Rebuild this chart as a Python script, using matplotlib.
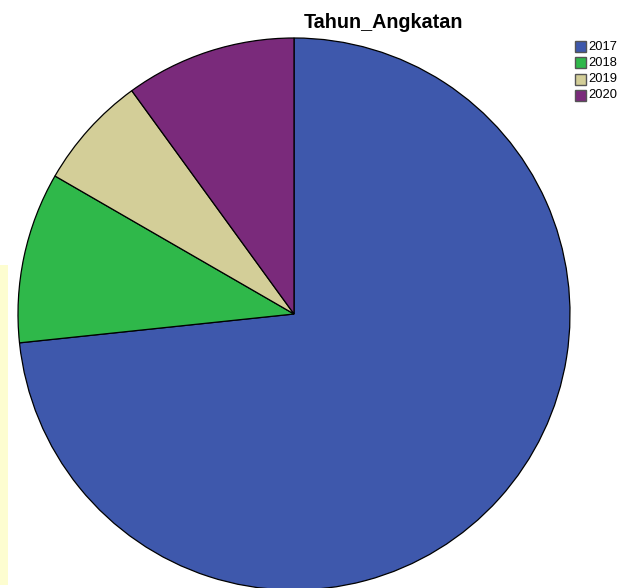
import matplotlib
matplotlib.use("Agg")
import matplotlib.pyplot as plt
from matplotlib.patches import Rectangle

categories = ["2017", "2018", "2019", "2020"]
counts = [22, 3, 2, 3]
colors = ["#3e58ac", "#2fb84a", "#d3ce98", "#7a2a7b"]
title = "Tahun_Angkatan"

W, H = 621, 588
fig = plt.figure(figsize=(W / 100, H / 100), dpi=100)
fig.patch.set_facecolor("white")
ax = fig.add_axes([0, 0, 1, 1])
ax.set_xlim(0, W)
ax.set_ylim(H, 0)
ax.set_aspect("equal")
ax.axis("off")

# faint background strip at left edge
ax.add_patch(Rectangle((0, 265), 8, 320, facecolor="#fdfdd0", edgecolor="none", zorder=0))

cx, cy, r = 294, 314, 276
ax.pie(counts, colors=colors, startangle=90, counterclock=False,
       center=(cx, H - cy), radius=r,
       wedgeprops=dict(edgecolor="black", linewidth=0.9))
# axis is inverted (y down); mirror wedges so the layout reads the same
for w in ax.patches[1:]:
    w.set_center((cx, cy))
    t1, t2 = w.theta1, w.theta2
    w.set_theta1(-t2)
    w.set_theta2(-t1)
ax.set_xlim(0, W)
ax.set_ylim(H, 0)

ax.text(383, 22, title, ha="center", va="center", fontsize=14.2,
        fontweight="bold", family="Liberation Sans")

for i, (cat, col) in enumerate(zip(categories, colors)):
    y = 46.5 + i * 16.3
    ax.add_patch(Rectangle((575, y - 5.5), 11, 11, facecolor=col,
                           edgecolor="#555555", linewidth=1.0))
    ax.text(588, y, cat, ha="left", va="center", fontsize=9.3,
            family="Liberation Sans")

fig.savefig("out.png", dpi=100)
